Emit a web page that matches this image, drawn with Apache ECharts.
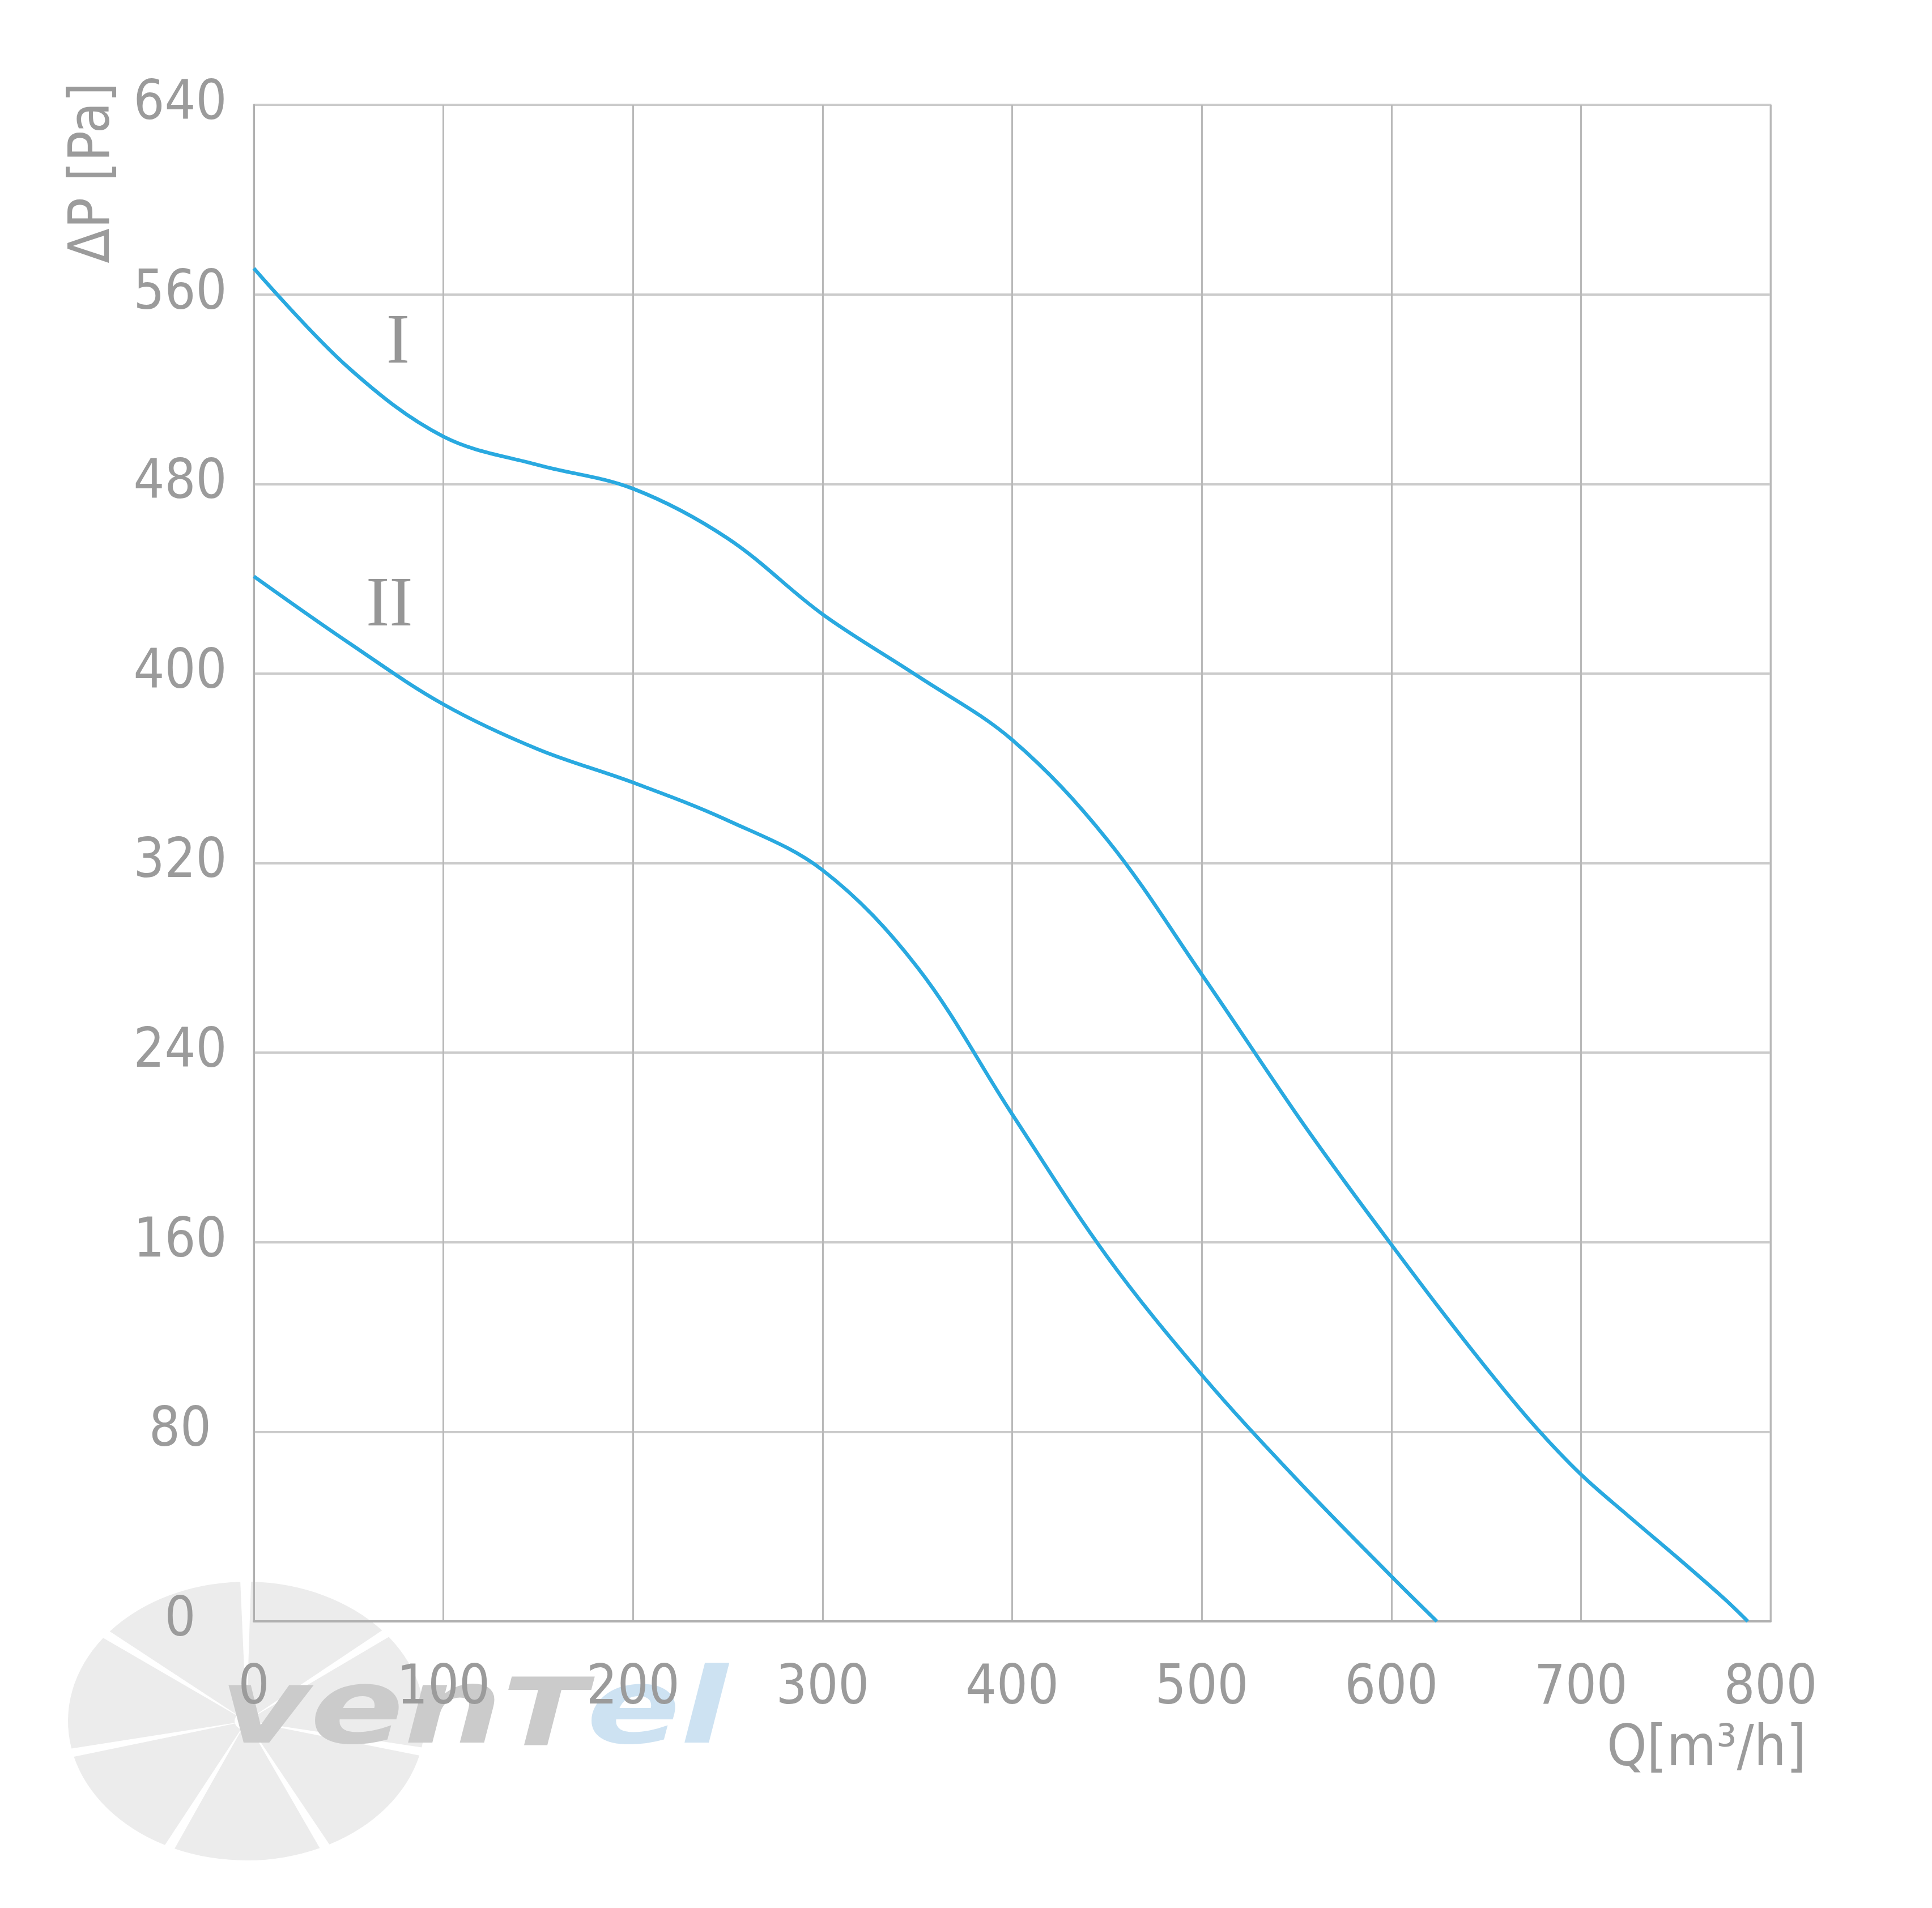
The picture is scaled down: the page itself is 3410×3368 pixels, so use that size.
<!DOCTYPE html>
<html>
<head>
<meta charset="utf-8">
<script src="https://cdn.jsdelivr.net/npm/echarts@6/dist/echarts.min.js"></script>
<style>
html,body{margin:0;padding:0;background:#fff;}
#chart{width:3410px;height:3368px;}
</style>
</head>
<body>
<div id="chart"></div>
<script>
// Flow rate Q [m3/h] and pressure ΔP [Pa]
const curve1Q = [0,50,100,150,200,250,300,350,400,450,500,550,575,600,625,650,675,700,725,750,775,788];
const curve1P = [571,529,500,488,478,457,425,399,372,330,273,214,186,159,132.5,107,83,62,44.5,27.5,10,0];
const curve2Q = [0,50,100,150,200,250,300,350,400,450,500,550,600,624];
const curve2P = [441,413,387,368,354,338,317,276,214,154,104,60,19,0];
const xTicks = [0,100,200,300,400,500,600,700,800];
const yTicks = [0,80,160,240,320,400,480,560,640];
const curveNames = ['I','II'];
const curveLabelAt = [[76,539],[71.5,428]];

const font = "'DejaVu Sans Condensed','DejaVu Sans',sans-serif";
const gray = '#9b9b9b';
const vGridColor = '#b9b9b9';
const hGridColor = '#cbcbcb';
const lineColor = '#29a9e0';

const chart = echarts.init(document.getElementById('chart'));
const pair = (q,p) => q.map((v,i)=>[v,p[i]]);

const blades = [];
const n = 7;
for (let i=0;i<n;i++){
  const a0 = i*2*Math.PI/n + 0.25;
  blades.push({type:'sector', silent:true, z:-20,
    shape:{cx:0, cy:0, r0:20, r:300, startAngle:a0, endAngle:a0 + 2*Math.PI/n - 0.06},
    style:{fill:'#ececec'}});
}
const fan = {type:'group', z:-20, silent:true, x:435, y:3038, scaleX:1.05, scaleY:0.82, children:blades};

const staticGraphic = [fan,
  {type:'text', z:-10, silent:true, x:388, y:2935, scaleX:1.32, scaleY:1,
    style:{text:'{a|ven}{b|T}{c|el}', textVerticalAlign:'top', rich:{
      a:{fontSize:185, fontWeight:'bold', fontStyle:'italic', fontFamily:'DejaVu Sans', fill:'#cbcbcb', verticalAlign:'bottom'},
      b:{fontSize:165, fontWeight:'bold', fontStyle:'italic', fontFamily:'DejaVu Sans', fill:'#cbcbcb', verticalAlign:'bottom'},
      c:{fontSize:185, fontWeight:'bold', fontStyle:'italic', fontFamily:'DejaVu Sans', fill:'#cde2f2', verticalAlign:'bottom'}}}},
  {type:'text', silent:true, x:166, y:305, rotation:Math.PI/2,
    style:{text:'ΔP [Pa]', fontSize:100, fontFamily:font, fill:gray, textAlign:'center', textVerticalAlign:'middle'}},
  {type:'text', silent:true, x:3188, y:3090,
    style:{text:'Q[m³/h]', fontSize:100, fontFamily:font, fill:gray, textAlign:'right', textVerticalAlign:'middle'}}
];

chart.setOption({
  animation:false,
  backgroundColor:'#fff',
  grid:{left:448, top:185, width:2677, height:2677, show:true, borderColor:'#c6c6c6', borderWidth:3, backgroundColor:'transparent'},
  xAxis:{type:'value', min:0, max:800, interval:100,
    axisLine:{show:true, lineStyle:{color:'#b0b0b0', width:4}},
    axisTick:{show:false},
    splitLine:{show:true, lineStyle:{color:vGridColor, width:3}},
    axisLabel:{color:gray, fontSize:96, fontFamily:font, margin:72,
      formatter:v=>xTicks.includes(v)?String(v):''}},
  yAxis:{type:'value', min:0, max:640, interval:80,
    axisLine:{show:true, lineStyle:{color:'#b0b0b0', width:3}},
    axisTick:{show:false},
    splitLine:{show:true, lineStyle:{color:hGridColor, width:4}},
    axisLabel:{color:gray, fontSize:96, fontFamily:font, margin:130, align:'center',
      formatter:v=>yTicks.includes(v)?String(v):''}},
  series:[
    {type:'line', data:pair(curve1Q,curve1P), smooth:0.35, showSymbol:false, lineStyle:{color:lineColor, width:6.5}, z:5},
    {type:'line', data:pair(curve2Q,curve2P), smooth:0.35, showSymbol:false, lineStyle:{color:lineColor, width:6.5}, z:5}
  ],
  graphic: staticGraphic
});

const ann = curveNames.map((t,i)=>{
  const p = chart.convertToPixel({gridIndex:0}, curveLabelAt[i]);
  return {type:'text', silent:true, x:p[0], y:p[1],
    style:{text:t, fontSize:124, fontFamily:"'Liberation Serif','DejaVu Serif',serif", fill:'#969696', textAlign:'center', textVerticalAlign:'middle'}};
});
chart.setOption({graphic: staticGraphic.concat(ann)}, {replaceMerge:['graphic']});
</script>
</body>
</html>
